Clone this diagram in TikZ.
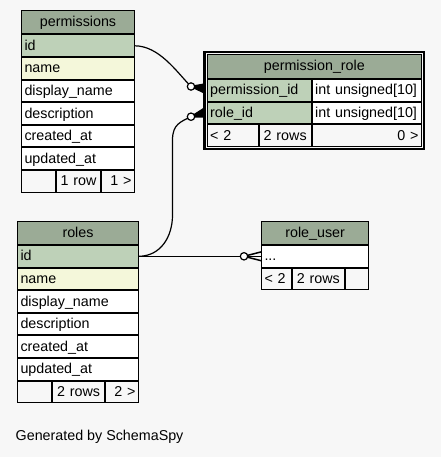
\documentclass[tikz,border=0pt]{standalone}
\usepackage{fontspec}
\setmainfont{Liberation Sans}
\usetikzlibrary{fit}

\definecolor{bgcol}{HTML}{F7F7F7}
\definecolor{headcol}{HTML}{9BAB96}
\definecolor{keycol}{HTML}{BED1B8}
\definecolor{idxcol}{HTML}{F4F7DA}

\tikzset{
	cell/.style={draw, line width=1pt, fill=white, anchor=north west, outer sep=0pt,
		inner xsep=3pt, inner ysep=0pt, minimum height=21.6pt,
		text height=11.3pt, text depth=2.2pt, align=left, text width=#1},
	head/.style={cell=#1, fill=headcol, align=center, minimum height=23pt, text height=10.5pt},
	pkey/.style={cell=#1, fill=keycol},
	idx/.style={cell=#1, fill=idxcol},
	foot/.style={cell=#1, fill=bgcol, align=center},
	footl/.style={foot=#1, align=left},
	footr/.style={foot=#1, align=right},
	rel/.style={line width=1.2pt},
	crow/.style={line width=1.5pt},
	ocirc/.style={circle, draw, line width=1.2pt, fill=white, minimum size=7.4pt, inner sep=0pt},
	selframe/.style={draw, line width=2.5pt, inner sep=2.7pt},
}

\begin{document}
\begin{tikzpicture}[x=1pt, y=-1pt, font=\fontsize{14.3}{17}\selectfont]
	\path[use as bounding box, fill=bgcol] (0,0) rectangle (441,457);

	% permissions
	\node[head=107pt] (permHead) at (21.5,11) {permissions};
	\node[pkey=107pt] (permId) at (21.5,35) {id};
	\node[idx=107pt] (permName) at (21.5,57.6) {name};
	\node[cell=107pt] (permDisp) at (21.5,80.2) {display\_name};
	\node[cell=107pt] (permDesc) at (21.5,102.8) {description};
	\node[cell=107pt] (permCreated) at (21.5,125.4) {created\_at};
	\node[cell=107pt] (permUpdated) at (21.5,148) {updated\_at};
	\node[foot=28pt] (permFootA) at (21.5,170.6) {};
	\node[foot=38pt] (permFootB) at (56.5,170.6) {1 row};
	\node[footr=27pt] (permFootC) at (101.5,170.6) {1 >};

	% permission_role
	\node[head=208.3pt, minimum height=24pt] (prHead) at (207.2,54.5) {permission\_role};
	\node[pkey=98pt] (prPermId) at (207.2,79.5) {permission\_id};
	\node[cell=103.3pt] (prPermType) at (312.2,79.5) {int unsigned[10]};
	\node[pkey=98pt] (prRoleId) at (207.2,102.1) {role\_id};
	\node[cell=103.3pt] (prRoleType) at (312.2,102.1) {int unsigned[10]};
	\node[footl=45pt] (prFootA) at (207.2,124.7) {< 2};
	\node[foot=46pt] (prFootB) at (259.2,124.7) {2 rows};
	\node[footr=103.3pt] (prFootC) at (312.2,124.7) {0 >};
	\node[selframe, fit=(prHead)(prFootC)] (prFrame) {};

	% roles
	\node[head=115pt] (rolesHead) at (17.5,221.5) {roles};
	\node[pkey=115pt] (rolesId) at (17.5,245.5) {id};
	\node[idx=115pt] (rolesName) at (17.5,268.1) {name};
	\node[cell=115pt] (rolesDisp) at (17.5,290.7) {display\_name};
	\node[cell=115pt] (rolesDesc) at (17.5,313.3) {description};
	\node[cell=115pt] (rolesCreated) at (17.5,335.9) {created\_at};
	\node[cell=115pt] (rolesUpdated) at (17.5,358.5) {updated\_at};
	\node[foot=28pt] (rolesFootA) at (17.5,381.1) {};
	\node[foot=46.3pt] (rolesFootB) at (52.5,381.1) {2 rows};
	\node[footr=26.7pt] (rolesFootC) at (105.8,381.1) {2 >};

	% role_user
	\node[head=101.3pt] (ruHead) at (261.5,221.5) {role\_user};
	\node[cell=101.3pt] (ruDots) at (261.5,245.5) {...};
	\node[footl=23.7pt] (ruFootA) at (261.5,268.1) {< 2};
	\node[foot=46.3pt] (ruFootB) at (292.2,268.1) {2 rows};
	\node[foot=17.3pt] (ruFootC) at (345.5,268.1) {};

	% relations
	\coordinate (o1) at (191,86.5);
	\coordinate (o2) at (191,116.7);
	\coordinate (o3) at (244,256.3);
	\coordinate (v1) at (172.5,215);
	\coordinate (v2) at (172.5,140);
	\coordinate (t1) at ([yshift=2pt]prFrame.west |- prPermId.west);
	\coordinate (t2) at (prFrame.west |- prRoleId.west);

	\draw[rel] (permId.east) .. controls +(25,0) and +(-14,-14) .. (o1);
	\draw[rel] (rolesId.east) .. controls +(22,0) and +(0,22) .. (v1) -- (v2)
		.. controls +(0,-16) and +(-10,5) .. (o2);
	\draw[rel] (rolesId.east) -- (ruDots.west);

	% crow's feet
	\filldraw[crow] (o1) -- ([yshift=4pt]t1) -- ([yshift=-4pt]t1) -- cycle;
	\filldraw[crow] (o2) -- ([yshift=4pt]t2) -- ([yshift=-4pt]t2) -- cycle;
	\draw[crow] (o3) -- ([yshift=4.5pt]ruDots.west);
	\draw[crow] (o3) -- ([yshift=-4.5pt]ruDots.west);

	\node[ocirc] (c1) at (o1) {};
	\node[ocirc] (c2) at (o2) {};
	\node[ocirc] (c3) at (o3) {};

	\node[anchor=base west, inner sep=0pt] (credit) at (15.5,440.3) {Generated by SchemaSpy};
\end{tikzpicture}
\end{document}
